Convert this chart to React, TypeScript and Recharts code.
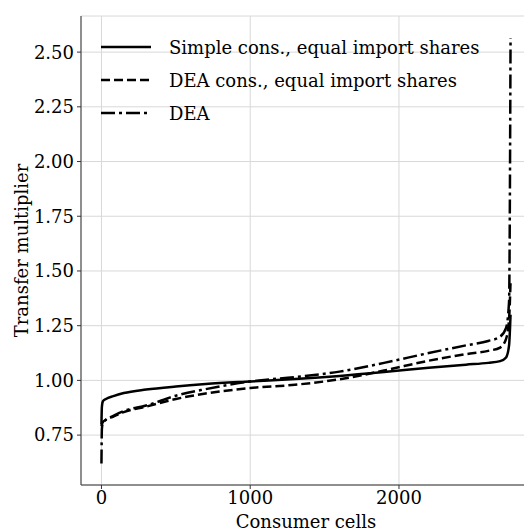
import React from 'react';
import {
  LineChart,
  Line,
  XAxis,
  YAxis,
  CartesianGrid,
  Label,
} from 'recharts';

// consumer cell index (sorted by multiplier)
const cells = [0, 3, 10, 30, 80, 150, 300, 500, 700, 1000, 1300, 1600, 1900, 2200, 2450, 2600, 2680, 2720, 2740, 2750];

const simpleEqual = [0.8, 0.88, 0.905, 0.915, 0.928, 0.942, 0.958, 0.972, 0.983, 0.995, 1.006, 1.02, 1.038, 1.058, 1.072, 1.08, 1.088, 1.105, 1.16, 1.3];
const deaEqual = [0.79, 0.8, 0.81, 0.82, 0.835, 0.855, 0.88, 0.915, 0.94, 0.965, 0.98, 1.005, 1.045, 1.09, 1.12, 1.135, 1.15, 1.19, 1.28, 1.45];
const dea = [0.62, 0.78, 0.805, 0.82, 0.838, 0.86, 0.885, 0.93, 0.96, 0.995, 1.015, 1.04, 1.08, 1.125, 1.16, 1.18, 1.2, 1.24, 1.36, 2.565];

const xTicks = [0, 1000, 2000];
const yTicks = [0.75, 1.0, 1.25, 1.5, 1.75, 2.0, 2.25, 2.5];

const series = [
  { key: 'simpleEqual', name: 'Simple cons., equal import shares', dash: undefined },
  { key: 'deaEqual', name: 'DEA cons., equal import shares', dash: '9 4' },
  { key: 'dea', name: 'DEA', dash: '14 4 3 4' },
];

const data = cells.map((c, i) => ({
  cell: c,
  simpleEqual: simpleEqual[i],
  deaEqual: deaEqual[i],
  dea: dea[i],
}));

const FONT = '"DejaVu Serif", serif';
const SPINE = '#333';
const GRID = '#d8d8d8';

const tickStyle = { fontSize: 18, fill: '#000', fontFamily: FONT };

function YTitle(props: any) {
  const vb = props.viewBox || { x: 0, y: 16, width: 81, height: 469 };
  const x = vb.x + 28;
  const y = vb.y + vb.height / 2;
  return (
    <text
      x={x}
      y={y}
      transform={`rotate(-90, ${x}, ${y})`}
      textAnchor="middle"
      fontSize={18}
      fontFamily={FONT}
      fill="#000"
    >
      Transfer multiplier
    </text>
  );
}

function XTitle(props: any) {
  const vb = props.viewBox || { x: 81, y: 485, width: 450, height: 47 };
  return (
    <text
      x={vb.x + vb.width / 2}
      y={vb.y + 43}
      textAnchor="middle"
      fontSize={18}
      fontFamily={FONT}
      fill="#000"
    >
      Consumer cells
    </text>
  );
}

export default function App() {
  return (
    <div
      style={{
        position: 'fixed',
        left: 0,
        top: 0,
        width: 524,
        height: 532,
        overflow: 'hidden',
        background: '#fff',
      }}
    >
      <LineChart
        width={540}
        height={532}
        data={data}
        margin={{ top: 16, right: 9, left: 0, bottom: 0 }}
      >
        <CartesianGrid stroke={GRID} strokeWidth={1} />
        <XAxis
          dataKey="cell"
          type="number"
          domain={[-137.5, 2887.5]}
          ticks={xTicks}
          allowDataOverflow
          height={47}
          tick={tickStyle}
          tickSize={4}
          tickMargin={2}
          stroke={SPINE}
          tickLine={{ stroke: SPINE }}
        >
          <Label content={<XTitle />} />
        </XAxis>
        <XAxis
          xAxisId="top"
          orientation="top"
          type="number"
          domain={[-137.5, 2887.5]}
          height={0}
          tick={false}
          tickLine={false}
          stroke={SPINE}
        />
        <YAxis
          type="number"
          domain={[0.522, 2.665]}
          ticks={yTicks}
          allowDataOverflow
          width={81}
          tick={tickStyle}
          tickSize={4}
          tickMargin={3}
          tickFormatter={(v: number) => v.toFixed(2)}
          stroke={SPINE}
          tickLine={{ stroke: SPINE }}
        >
          <Label content={<YTitle />} />
        </YAxis>
        {series.map((s) => (
          <Line
            key={s.key}
            type="monotone"
            dataKey={s.key}
            name={s.name}
            stroke="#000"
            strokeWidth={2.5}
            strokeDasharray={s.dash}
            dot={false}
            isAnimationActive={false}
          />
        ))}
      </LineChart>
      <svg
        width={524}
        height={140}
        style={{ position: 'absolute', left: 0, top: 0, pointerEvents: 'none' }}
      >
        {series.map((s, i) => {
          const y = 47 + i * 33;
          return (
            <g key={s.key}>
              <line x1={101} x2={151} y1={y} y2={y} stroke="#000" strokeWidth={2.5} strokeDasharray={s.dash} />
              <text x={169} y={y + 6.5} fontSize={18} fontFamily={FONT} fill="#000">
                {s.name}
              </text>
            </g>
          );
        })}
      </svg>
    </div>
  );
}
